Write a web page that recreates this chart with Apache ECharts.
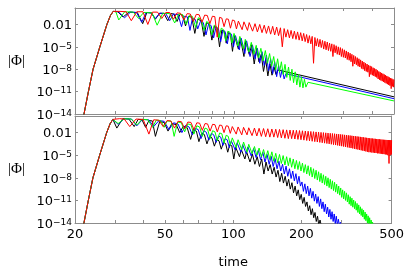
<!DOCTYPE html>
<html>
<head>
    <meta charset="utf-8"/>
    <title>ECharts</title>
    <script src="https://cdn.jsdelivr.net/npm/echarts@6/dist/echarts.min.js"></script>
</head>
<body style="margin:0">
<div id="main" style="width: 407px; height: 273px;"></div>
<script type="text/javascript">
    // values are [time, log10 |Phi|]
    var rise = [[21.6, -14.6], [21.9, -14], [22.9, -11], [24.0, -8], [25.7, -5], [27.6, -2], [28.6, -0.8], [29.4, -0.25]];

    var blackTop = [[30.8, -0.3], [32.5, -1.0], [34.5, -0.35], [37.5, -0.4], [39.6, -1.9], [41.3, -0.4], [43.3, -0.45], [45, -1.3], [47, -0.5], [49, -0.5],
        [51, -1.5], [52.7, -0.55], [54.3, -0.6], [56, -1.6], [57.7, -0.65], [59.3, -0.75], [61, -2.2], [63, -0.9], [65, -1.05], [67, -3.2],
        [69, -1.3], [71.5, -1.5], [73.5, -3.6], [75.5, -1.75], [77.6, -2.0], [79.6, -4.1], [81.6, -2.25], [84, -2.5], [86, -5.0], [88, -2.75],
        [90, -2.9], [92, -4.5], [94, -3.1], [96, -3.3], [98, -5.6], [100, -3.5], [102, -3.65], [104, -5.3], [106, -3.8], [108, -4.0],
        [110, -6.3], [112, -4.2], [114, -4.4], [116, -6.0], [119, -4.7], [122, -7.3], [125, -5.2], [128, -7.0], [131, -6.0], [134, -8.3],
        [137, -6.7], [140, -8.9], [143, -7.3], [146, -8.8], [149, -7.7], [152, -8.7], [155, -8.1], [500, -11.7]];

    var blueTop = [[31, -0.3], [33, -1.1], [35, -0.35], [37.2, -0.4], [39.2, -1.7], [41, -0.4], [43, -0.45], [45, -1.2], [47, -0.5], [50, -0.55],
        [52, -1.5], [54, -0.6], [56.6, -0.7], [58.6, -2.3], [60.2, -0.9], [62.2, -1.0], [63.8, -2.8], [65.4, -1.2], [67.4, -1.35], [69, -2.6],
        [71, -1.55], [73, -1.75], [75, -3.4], [77, -1.95], [79, -2.15], [81, -3.8], [83, -2.35], [85, -2.55], [87, -4.3], [89, -2.75],
        [91, -2.95], [93, -4.6], [95, -3.15], [97, -3.3], [99, -5.0], [101, -3.5], [103, -3.65], [105, -5.4], [107, -3.85], [109, -4.0],
        [111, -5.9], [113, -4.2], [115, -4.4], [117, -6.3], [120, -4.8], [123, -6.6], [126, -5.2], [129, -7.2], [132, -5.65], [135, -7.5],
        [138, -6.1], [141, -8.2], [144, -6.6], [147, -8.6], [150, -7.0], [153, -9.0], [156, -7.5], [159, -9.1], [162, -8.0], [165, -9.3],
        [168, -8.6], [500, -11.95]];

    var greenTop = [[30.2, -0.3], [31.1, -1.4], [33, -0.3], [36, -0.35], [38, -1.2], [40, -0.4], [43.5, -0.45], [45.8, -2.1], [48.5, -0.5], [52, -0.55],
        [54.7, -1.8], [57, -0.6], [59.3, -0.7], [61.5, -2.0], [63.5, -0.8], [65.5, -0.95], [67.5, -2.4], [69.5, -1.1], [71.5, -1.35], [73.5, -2.8],
        [75.5, -1.6], [77.5, -1.85], [79.5, -3.4], [81.5, -2.1], [83.5, -2.3], [85.5, -3.8], [87.5, -2.5], [89.5, -2.7], [91.5, -4.2], [93.5, -2.9],
        [95.5, -3.05], [97.5, -4.5], [99.5, -3.2], [101.5, -3.4], [103.5, -4.9], [105.5, -3.6], [107.5, -3.8], [109.5, -5.3], [111.5, -4.0], [113.5, -4.2],
        [115.5, -5.7], [118.5, -4.4], [121.5, -6.0], [124.5, -4.8], [127.5, -6.5], [130.5, -5.2], [133.5, -6.9], [136.5, -5.5], [139.5, -7.2], [142.5, -5.9],
        [145.5, -7.6], [148.5, -6.3], [151.5, -8.1], [154.5, -6.6], [157.5, -8.4], [160.5, -7.0], [163.5, -8.7], [166.5, -7.35], [169.5, -9.1], [172.5, -7.7],
        [175.5, -9.5], [178.5, -8.0], [181.5, -9.8], [184.5, -8.35], [187.5, -10.1], [190.5, -8.7], [193.5, -10.4], [196.5, -9.0], [199.5, -10.5], [202.5, -9.35],
        [205.5, -10.4], [210, -9.75], [500, -12.25]];

    var redTop = [[31.5, -0.25], [33.5, -0.3], [35.3, -1.5], [37.3, -0.3], [39.7, -0.3], [41.7, -2.0], [43.7, -0.35], [46, -0.35], [48, -1.2], [50, -0.4],
        [52, -0.4], [54, -1.3], [56, -0.45], [58, -0.5], [60, -1.4], [62, -0.55], [64, -0.6], [66, -1.6], [68, -0.65], [70, -0.7],
        [72, -1.7], [74, -0.75], [76, -0.8], [78, -1.9], [80, -0.9], [82, -0.95], [84, -3.7], [86, -1.05], [88, -1.15], [90, -2.3],
        [92, -1.25], [94, -1.3], [96, -2.5], [98, -1.4], [100, -1.5], [102, -2.6], [104, -1.55], [106, -1.6], [108, -2.7], [110, -1.65],
        [112, -1.7], [114, -2.8], [116, -1.75], [118, -1.8], [120, -2.9], [123, -1.9], [126, -3.0], [129, -2.0], [132, -3.1], [135, -2.1],
        [138, -3.2], [141, -2.2], [144, -3.3], [147, -2.25], [150, -3.4], [153, -2.35], [156, -3.5], [159, -2.45], [162, -5.0], [165, -2.55],
        [168, -3.7], [171, -2.7], [174, -3.8], [177, -2.8], [180, -3.9], [183, -2.9], [186, -4.0], [189, -3.0], [192, -4.1], [195, -3.1],
        [198, -4.2], [201, -3.2], [204, -4.3], [207, -3.35], [210, -4.5], [213, -3.5], [216, -4.6], [219, -3.6], [222, -7.2], [225, -3.75],
        [228, -4.9], [231, -3.9], [234, -5.0], [237, -4.0], [240, -5.1], [243, -4.15], [246, -5.3], [249, -4.25], [252, -5.4], [255, -4.35],
        [258, -5.5], [261, -4.5], [264, -5.6], [267, -4.6], [270, -6.3], [273, -4.7], [276, -5.8], [279, -4.85], [282, -6.0], [285, -5.0],
        [288, -6.1], [291, -5.1], [294, -6.3], [297, -5.25], [300, -6.4], [303, -5.4], [306, -6.5], [309, -5.55], [312, -6.7], [315, -5.7],
        [318, -6.8], [321, -5.85], [324, -7.0], [327, -6.0], [330, -7.6], [333, -6.15], [336, -7.3], [339, -6.3], [342, -7.4], [345, -6.45],
        [348, -7.6], [351, -6.6], [354, -7.7], [357, -6.75], [360, -7.9], [363, -6.9], [366, -8.0], [369, -7.05], [372, -8.2], [375, -7.2],
        [378, -8.3], [381, -7.3], [384, -8.4], [387, -7.45], [390, -9.0], [393, -7.55], [396, -8.7], [399, -7.65], [402, -8.8], [405, -7.8],
        [408, -8.9], [411, -7.9], [414, -9.0], [417, -8.0], [420, -9.1], [423, -8.15], [426, -9.3], [429, -8.3], [432, -9.4], [435, -8.4],
        [438, -9.5], [441, -8.5], [444, -9.6], [447, -8.6], [450, -9.7], [453, -8.7], [456, -9.8], [459, -8.8], [462, -9.9], [465, -8.9],
        [468, -10.0], [471, -9.0], [474, -10.1], [477, -9.1], [480, -10.2], [483, -9.2], [486, -10.6], [489, -9.25], [492, -10.3], [495, -9.35],
        [498, -10.4], [500, -9.4]];

    var blackBottom = [[30.6, -1.4], [32.5, -0.15], [34.6, -0.2], [36.5, -1.2], [38, -0.25], [39.5, -0.3], [41, -1.3], [42.4, -0.4], [43.9, -0.45], [45.3, -2.5],
        [47.3, -0.55], [49.5, -0.65], [51.5, -1.8], [53.5, -0.8], [56, -0.95], [58, -2.0], [60.2, -1.15], [62.6, -1.35], [64.8, -2.9], [66.6, -1.6],
        [68.7, -1.8], [70.5, -3.2], [72.5, -2.05], [74.5, -2.25], [76.5, -3.5], [78.5, -2.5], [80.5, -2.7], [82.5, -3.8], [84.5, -2.9], [86.5, -3.1],
        [88.5, -4.2], [90.5, -3.3], [92.5, -3.45], [94.5, -4.6], [96.5, -3.6], [98.5, -3.75], [100.5, -5.5], [102.5, -3.95], [104.5, -4.1], [106.5, -5.2],
        [108.5, -4.25], [110.5, -4.35], [112.5, -5.5], [114.5, -4.55], [116.5, -4.7], [118.5, -5.9], [121.5, -4.85], [124.5, -6.2], [127.5, -5.2], [130.5, -6.5],
        [133.5, -5.5], [136.5, -7.5], [139.5, -5.9], [142.5, -7.1], [145.5, -6.25], [148.5, -7.5], [151.5, -6.6], [154.5, -7.9], [157.5, -7.0], [160.5, -8.5],
        [163.5, -7.4], [166.5, -8.7], [169.5, -7.8], [172.5, -9.1], [175.5, -8.2], [178.5, -9.5], [181.5, -8.65], [184.5, -10.0], [187.5, -9.1], [190.5, -10.4],
        [193.5, -9.6], [196.5, -10.9], [199.5, -10.2], [202.5, -11.4], [205.5, -10.6], [208.5, -11.8], [211.5, -11.2], [214.5, -12.4], [217.5, -11.7], [220.5, -12.9],
        [223.5, -12.1], [226.5, -13.3], [229.5, -12.6], [232.5, -13.8], [235.5, -13.1], [238.5, -14.3], [241.5, -13.6], [244.5, -14.3], [246, -14.3]];

    var blueBottom = [[31, -0.9], [33, -0.15], [35.5, -0.2], [37.5, -1.1], [39.7, -0.25], [42.3, -0.3], [44.5, -1.2], [47, -0.4], [49.5, -0.5], [52, -1.6],
        [54.5, -0.7], [57, -0.85], [59.3, -2.0], [61.5, -1.05], [63.8, -1.25], [66, -2.3], [68, -1.45], [70, -1.6], [72, -2.8], [74, -1.75],
        [76, -1.95], [78, -3.0], [80, -2.1], [82, -2.3], [84, -3.3], [86, -2.45], [88, -2.6], [90, -3.7], [92, -2.8], [94, -2.95],
        [96, -4.0], [98, -3.1], [100, -3.25], [102, -4.3], [104, -3.35], [106, -3.5], [108, -4.6], [110, -3.6], [112, -3.75], [114, -4.8],
        [116, -3.9], [118, -4.0], [120, -5.1], [123, -4.1], [126, -5.3], [129, -4.35], [132, -5.6], [135, -4.6], [138, -5.9], [141, -4.9],
        [144, -6.2], [147, -5.15], [150, -6.5], [153, -5.45], [156, -6.8], [159, -5.8], [162, -7.1], [165, -6.2], [168, -7.5], [171, -6.45],
        [174, -7.8], [177, -6.8], [180, -8.1], [183, -7.1], [186, -8.4], [189, -7.45], [192, -8.8], [195, -7.8], [198, -9.1], [201, -8.55],
        [204, -9.8], [207, -8.8], [210, -10.1], [213, -9.1], [216, -10.4], [219, -9.4], [222, -10.7], [225, -9.8], [228, -11.1], [231, -10.15],
        [234, -11.4], [237, -10.5], [240, -11.8], [243, -10.8], [246, -12.1], [249, -11.2], [252, -12.5], [255, -11.5], [258, -12.8], [261, -11.9],
        [264, -13.2], [267, -12.2], [270, -13.5], [273, -12.5], [276, -13.8], [279, -12.8], [282, -14.1], [285, -13.1], [288, -14.3], [291, -13.5],
        [294, -14.3], [297, -13.9], [300, -14.3]];

    var greenBottom = [[31, -0.8], [33, -0.15], [35.5, -0.2], [37.5, -1.0], [39.5, -0.25], [42, -0.3], [44, -1.3], [45.7, -0.35], [47.8, -0.4], [49.5, -1.3],
        [51, -0.45], [53.2, -0.5], [54.8, -2.5], [56.8, -0.6], [59, -0.7], [61, -1.9], [63, -0.85], [65, -0.95], [67, -2.2], [69, -1.1],
        [71, -1.25], [73, -2.5], [75, -1.4], [77, -1.55], [79, -2.8], [81, -1.75], [83, -1.9], [85, -3.1], [87, -2.05], [89, -2.15],
        [91, -3.4], [93, -2.35], [95, -2.5], [97, -3.7], [99, -2.7], [101, -2.85], [103, -4.0], [105, -2.95], [107, -3.1], [109, -4.3],
        [111, -3.25], [113, -3.4], [115, -4.6], [117, -3.55], [119, -3.65], [121, -4.8], [124, -3.85], [127, -5.0], [130, -4.05], [133, -5.2],
        [136, -4.25], [139, -5.4], [142, -4.4], [145, -5.6], [148, -4.55], [151, -5.8], [154, -4.75], [157, -6.0], [160, -4.9], [163, -6.1],
        [166, -5.05], [169, -6.3], [172, -5.2], [175, -6.4], [178, -5.35], [181, -6.6], [184, -5.5], [187, -6.8], [190, -5.7], [193, -6.9],
        [196, -5.85], [199, -7.1], [202, -6.05], [205, -7.3], [208, -6.25], [211, -7.5], [214, -6.4], [217, -7.7], [220, -6.6], [223, -7.9],
        [226, -6.8], [229, -8.1], [232, -7.0], [235, -8.3], [238, -7.2], [241, -8.5], [244, -7.4], [247, -8.7], [250, -7.6], [253, -8.9],
        [256, -7.8], [259, -9.1], [262, -8.0], [265, -9.3], [268, -8.2], [271, -9.5], [274, -8.4], [277, -9.7], [280, -8.6], [283, -9.9],
        [286, -8.85], [289, -10.1], [292, -9.1], [295, -10.3], [298, -9.35], [301, -10.6], [304, -9.6], [307, -10.8], [310, -9.8], [313, -11.0],
        [316, -10.0], [319, -11.2], [322, -10.25], [325, -11.5], [328, -10.5], [331, -11.7], [334, -10.7], [337, -11.9], [340, -10.95], [343, -12.1],
        [346, -11.15], [349, -12.3], [352, -11.4], [355, -12.6], [358, -11.6], [361, -12.8], [364, -11.85], [367, -13.0], [370, -12.1], [373, -13.2],
        [376, -12.3], [379, -13.5], [382, -12.55], [385, -13.7], [388, -12.8], [391, -14.0], [394, -13.05], [397, -14.3], [400, -13.3], [403, -14.3],
        [406, -13.6], [409, -14.3], [412, -13.9], [415, -14.3]];

    var redBottom = [[31.5, -0.15], [33, -0.2], [34.9, -1.2], [37.2, -0.2], [40, -0.25], [42.4, -2.2], [44.5, -0.3], [46.9, -0.35], [49, -1.2], [51, -0.4],
        [53, -0.45], [55, -1.4], [57, -0.5], [59, -0.55], [61, -1.5], [63, -0.6], [65, -0.65], [67, -1.6], [69, -0.7], [71, -0.75],
        [73, -1.7], [75, -0.8], [77, -0.85], [79, -1.8], [81, -0.9], [83, -0.95], [85, -1.9], [87, -1.0], [89, -1.05], [91, -2.0],
        [93, -1.1], [95, -1.15], [97, -2.1], [99, -1.2], [101, -1.22], [103, -2.2], [105, -1.25], [107, -1.28], [109, -2.3], [111, -1.3],
        [113, -1.33], [115, -2.3], [117, -1.36], [119, -1.38], [121, -2.4], [124, -1.4], [127, -2.45], [130, -1.43], [133, -2.5], [136, -1.46],
        [139, -2.55], [142, -1.49], [145, -2.6], [148, -1.52], [151, -2.6], [154, -1.55], [157, -2.65], [160, -1.58], [163, -2.7], [166, -1.61],
        [169, -2.75], [172, -1.64], [175, -2.8], [178, -1.66], [181, -2.8], [184, -1.68], [187, -2.85], [190, -1.7], [193, -2.9], [196, -1.73],
        [199, -2.95], [202, -1.76], [205, -3.0], [208, -1.79], [211, -3.05], [214, -1.82], [217, -3.1], [220, -1.85], [223, -3.15], [226, -1.88],
        [229, -3.2], [232, -1.91], [235, -3.25], [238, -1.94], [241, -3.3], [244, -1.97], [247, -3.35], [250, -2.0], [253, -3.4], [256, -2.03],
        [259, -3.45], [262, -2.06], [265, -3.5], [268, -2.09], [271, -3.55], [274, -2.12], [277, -3.6], [280, -2.15], [283, -3.65], [286, -2.18],
        [289, -3.7], [292, -2.21], [295, -3.75], [298, -2.24], [301, -3.8], [304, -2.27], [307, -3.85], [310, -2.3], [313, -3.9], [316, -2.33],
        [319, -3.95], [322, -2.36], [325, -4.0], [328, -2.39], [331, -4.05], [334, -2.42], [337, -4.1], [340, -2.45], [343, -4.15], [346, -2.48],
        [349, -4.2], [352, -2.51], [355, -4.25], [358, -2.54], [361, -4.3], [364, -2.57], [367, -4.35], [370, -2.6], [373, -4.4], [376, -2.63],
        [379, -4.45], [382, -2.66], [385, -4.5], [388, -2.69], [391, -4.55], [394, -2.72], [397, -4.6], [400, -2.75], [403, -4.6], [406, -2.77],
        [409, -4.65], [412, -2.79], [415, -4.65], [418, -2.81], [421, -4.7], [424, -2.83], [427, -4.7], [430, -2.85], [433, -4.75], [436, -2.87],
        [439, -4.75], [442, -2.89], [445, -4.8], [448, -2.91], [451, -4.8], [454, -2.93], [457, -4.85], [460, -2.95], [463, -4.85], [466, -2.96],
        [469, -4.9], [472, -2.97], [475, -4.9], [478, -2.98], [481, -5.0], [484, -2.99], [487, -6.1], [490, -3.0], [493, -5.0], [496, -3.0],
        [499, -4.9], [500, -3.0]];

    var xLabels = [20, 50, 100, 200, 500];
    var xTicks = [30, 40, 50, 60, 70, 80, 90, 100, 200, 300, 400];
    var yLabels = [1e-14, 1e-11, 1e-8, 1e-5, 0.01];

    var frame = '#8c8c8c';

    function pts(arr) {
        return rise.concat(arr).map(function (p) {
            return [p[0], Math.pow(10, p[1])];
        });
    }

    function yFormat(v) {
        if (v > 0.005) return '{a|0.01}';
        var e = Math.round(Math.log(v) / Math.LN10);
        return '{a|10}{s|\u2212' + (-e) + '}';
    }

    function xAx(grid, pos, labels, name) {
        return {
            type: 'log', gridIndex: grid, position: pos, min: 20, max: 500,
            name: name || '', nameLocation: 'middle', nameGap: 33,
            nameTextStyle: {fontFamily: 'DejaVu Sans', fontSize: 13, color: '#000'},
            axisLine: {lineStyle: {color: frame, width: 1}},
            axisTick: {show: true, inside: true, length: 3, customValues: xTicks, lineStyle: {color: frame}},
            axisLabel: {
                show: labels, customValues: xLabels, margin: 5, color: '#000',
                fontFamily: 'DejaVu Sans', fontSize: 13,
                formatter: function (v) { return String(Math.round(v)); }
            },
            splitLine: {show: false}
        };
    }

    function yAx(grid, pos, labels) {
        return {
            type: 'log', gridIndex: grid, position: pos, min: 1e-14, max: 1.6,
            name: labels ? '|\u03a6|' : '', nameLocation: 'middle', nameRotate: 0, nameGap: 50,
            nameTextStyle: {fontFamily: 'Liberation Serif', fontSize: 15, color: '#000', padding: [6, 0, 0, 0]},
            axisLine: {lineStyle: {color: frame, width: 1}},
            axisTick: {show: true, inside: true, length: 3, customValues: yLabels, lineStyle: {color: frame}},
            axisLabel: {
                show: labels, customValues: yLabels, margin: 3, color: '#000',
                padding: [3, 0, 0, 0],
                formatter: yFormat,
                rich: {
                    a: {fontFamily: 'DejaVu Sans', fontSize: 13, lineHeight: 13, verticalAlign: 'bottom', color: '#000'},
                    s: {fontFamily: 'DejaVu Sans', fontSize: 9, lineHeight: 9, padding: [0, 0, 9, 0], verticalAlign: 'top', color: '#000'}
                }
            },
            splitLine: {show: false}
        };
    }

    function line(arr, color, idx) {
        return {
            type: 'line', xAxisIndex: idx, yAxisIndex: idx, data: pts(arr),
            symbol: 'none', showSymbol: false, silent: true,
            lineStyle: {color: color, width: 1}
        };
    }

    var chart = echarts.init(document.getElementById('main'));
    chart.setOption({
        animation: false,
        backgroundColor: '#fff',
        grid: [
            {left: 75, top: 8, width: 319, height: 106},
            {left: 75, top: 116, width: 319, height: 107}
        ],
        xAxis: [
            xAx(0, 'bottom', false),
            xAx(0, 'top', false),
            xAx(1, 'bottom', true, 'time'),
            xAx(1, 'top', false)
        ],
        yAxis: [
            yAx(0, 'left', true),
            yAx(0, 'right', false),
            yAx(1, 'left', true),
            yAx(1, 'right', false)
        ],
        series: [
            line(blackTop, '#000000', 0),
            line(blueTop, '#0000ff', 0),
            line(greenTop, '#00ff00', 0),
            line(redTop, '#ff0000', 0),
            line(blackBottom, '#000000', 2),
            line(blueBottom, '#0000ff', 2),
            line(greenBottom, '#00ff00', 2),
            line(redBottom, '#ff0000', 2)
        ]
    });
</script>
</body>
</html>
